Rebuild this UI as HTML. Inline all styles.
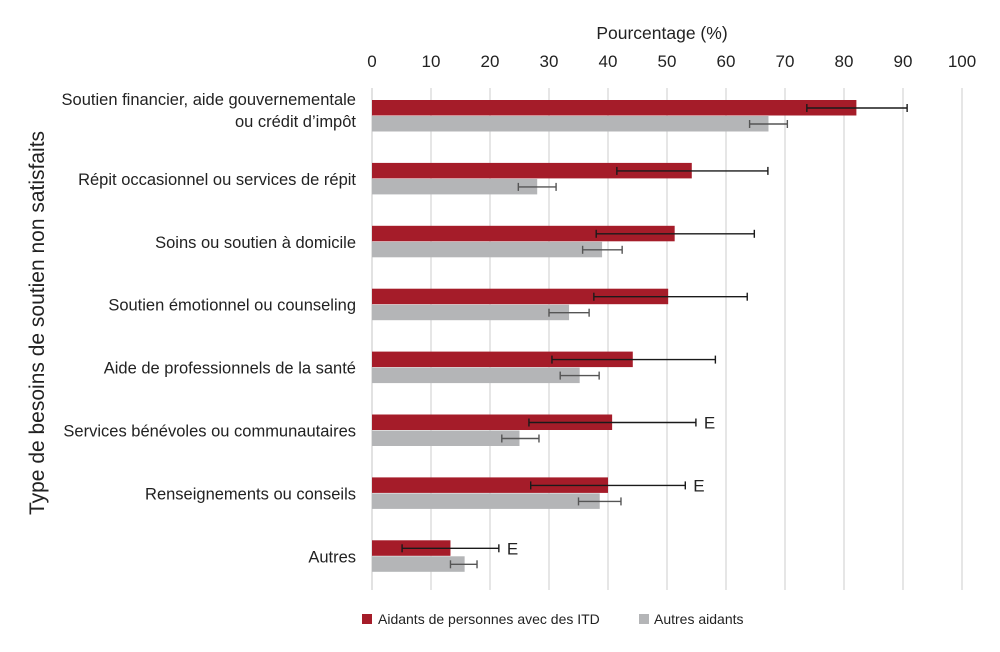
<!DOCTYPE html>
<html><head><meta charset="utf-8"><style>
body{margin:0;background:#fff;}
svg text{font-family:"Liberation Sans Narrow","Liberation Sans",sans-serif;fill:#222;}
</style></head><body>
<svg id="chart" width="1000" height="647">
<text x="662" y="39" font-size="17.5" text-anchor="middle">Pourcentage (%)</text>
<text transform="translate(44,323) rotate(-90)" font-size="21" text-anchor="middle">Type de besoins de soutien non satisfaits</text>
<g id="grid"></g><g id="bars"></g><g id="labels"></g>
<g>
<rect x="362" y="614" width="10" height="10" fill="#a51c29"/>
<text x="378" y="624" font-size="14">Aidants de personnes avec des ITD</text>
<rect x="639" y="614" width="10" height="10" fill="#b4b5b7"/>
<text x="654" y="624" font-size="14">Autres aidants</text>
</g>
</svg>
<script>
const categories=[["Soutien financier, aide gouvernementale","ou crédit d’impôt"],["Répit occasionnel ou services de répit"],["Soins ou soutien à domicile"],["Soutien émotionnel ou counseling"],["Aide de professionnels de la santé"],["Services bénévoles ou communautaires"],["Renseignements ou conseils"],["Autres"]];
const itd=[82.1,54.2,51.3,50.2,44.2,40.7,40.0,13.3];
const itdLow=[73.7,41.5,38.0,37.6,30.5,26.6,26.9,5.1];
const itdHigh=[90.7,67.1,64.8,63.6,58.2,54.9,53.1,21.5];
const itdFlag=["","","","","","E","E","E"];
const autres=[67.2,28.0,39.0,33.4,35.2,25.0,38.6,15.7];
const autresLow=[64.0,24.8,35.7,30.0,31.9,22.0,35.0,13.3];
const autresHigh=[70.4,31.2,42.4,36.8,38.5,28.3,42.2,17.8];
const ticks=[0,10,20,30,40,50,60,70,80,90,100];
const NS="http://www.w3.org/2000/svg";
const x=v=>372+v*5.9;
const rowY=i=>100+i*62.9;
function mk(tag,attrs,parent){const e=document.createElementNS(NS,tag);for(const k in attrs)e.setAttribute(k,attrs[k]);parent.appendChild(e);return e;}
const grid=document.getElementById('grid'),bars=document.getElementById('bars'),labels=document.getElementById('labels');
ticks.forEach(t=>{
 const l=mk('line',{x1:x(t),x2:x(t),y1:88,y2:590,stroke:'#d9d9d9','stroke-width':t===0?1.5:1.3},grid);
 
 
 const tx=mk('text',{x:x(t),y:67,'font-size':17,'text-anchor':'middle'},grid);
 tx.textContent=t;
 
 
});
function err(lo,hi,y,col,parent,name){
 const g=mk('g',{stroke:col,'stroke-width':1.4},parent);
 
 
 mk('line',{x1:x(lo),x2:x(hi),y1:y,y2:y},g);
 mk('line',{x1:x(lo),x2:x(lo),y1:y-4,y2:y+4},g);
 mk('line',{x1:x(hi),x2:x(hi),y1:y-4,y2:y+4},g);
}
categories.forEach((c,i)=>{
 const y=rowY(i);
 const r=mk('rect',{x:x(0),y:y,width:x(itd[i])-x(0),height:15.5,fill:'#a51c29'},bars);
 
 
 const g=mk('rect',{x:x(0),y:y+16,width:x(autres[i])-x(0),height:15.5,fill:'#b4b5b7'},bars);
 
 
 err(itdLow[i],itdHigh[i],y+8,'#1a1a1a',bars,'errorbar-itd-'+i);
 err(autresLow[i],autresHigh[i],y+24,'#555',bars,'errorbar-autres-'+i);
 if(itdFlag[i]){const e=mk('text',{x:x(itdHigh[i])+8,y:y+14,'font-size':17},bars);e.textContent=itdFlag[i];
 
 }
 const t=mk('text',{x:356,'font-size':16.5,'text-anchor':'end'},labels);
 
 
 if(c.length===2){t.setAttribute('y',y+5);
  const a=mk('tspan',{x:356},t);a.textContent=c[0];
  const b=mk('tspan',{x:356,dy:22},t);b.textContent=c[1];}
 else{t.setAttribute('y',y+22);t.textContent=c[0];}
});
</script>
</body></html>
